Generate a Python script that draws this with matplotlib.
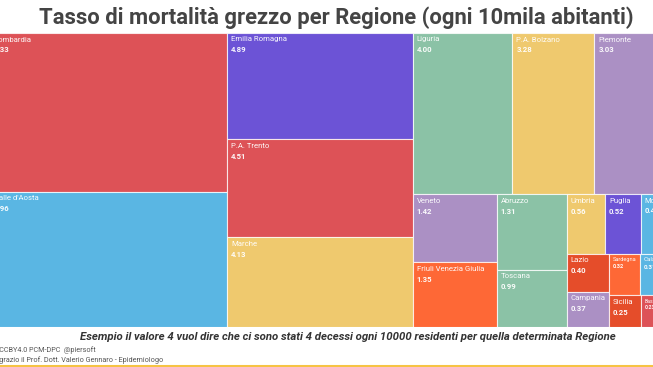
import matplotlib
matplotlib.use("Agg")
import matplotlib.pyplot as plt
from matplotlib.patches import Rectangle
from matplotlib.lines import Line2D

# ---------------- data ----------------
regions = ["Lombardia", "Valle d'Aosta", "Emilia Romagna", "P.A. Trento", "Marche",
           "Liguria", "P.A. Bolzano", "Piemonte", "Veneto", "Friuli Venezia Giulia",
           "Abruzzo", "Toscana", "Umbria", "Puglia", "Molise", "Lazio", "Campania",
           "Sardegna", "Calabria", "Sicilia", "Basilicata"]
values = [9.33, 7.96, 4.89, 4.51, 4.13,
          4.00, 3.28, 3.03, 1.42, 1.35,
          1.31, 0.99, 0.56, 0.52, 0.43, 0.40, 0.37,
          0.32, 0.31, 0.25, 0.23]
colors = ["#dd5257", "#5ab6e3", "#6c53d6", "#dd5257", "#efc96e",
          "#8bc2a6", "#efc96e", "#ab90c4", "#ab90c4", "#fe6836",
          "#8bc2a6", "#8bc2a6", "#efc96e", "#6c53d6", "#5ab6e3", "#e54d2a", "#ab90c4",
          "#fe6836", "#5ab6e3", "#e54d2a", "#dd5257"]

title = "Tasso di mortalità grezzo per Regione (ogni 10mila abitanti)"
note = "Esempio il valore 4 vuol dire che ci sono stati 4 decessi ogni 10000 residenti per quella determinata Regione"
credit1 = "Dati: CCBY4.0 PCM-DPC  @piersoft"
credit2 = "Ringrazio il Prof. Dott. Valerio Gennaro - Epidemiologo"

# ---------------- squarified treemap (d3 style) ----------------
PHI = (1 + 5 ** 0.5) / 2


def squarify(vals, x0, y0, x1, y1, ratio=PHI):
    n = len(vals)
    out = [None] * n
    value = sum(vals)
    i0 = i1 = 0
    while i0 < n:
        dx, dy = x1 - x0, y1 - y0
        sumv = vals[i1]
        i1 += 1
        minv = maxv = sumv
        alpha = max(dy / dx, dx / dy) / (value * ratio)
        beta = sumv * sumv * alpha
        min_ratio = max(maxv / beta, beta / minv)
        while i1 < n:
            nv = vals[i1]
            sumv += nv
            minv = min(minv, nv)
            maxv = max(maxv, nv)
            beta = sumv * sumv * alpha
            nr = max(maxv / beta, beta / minv)
            if nr > min_ratio:
                sumv -= nv
                break
            min_ratio = nr
            i1 += 1
        row = list(range(i0, i1))
        if dx < dy:  # dice: horizontal row on top
            ny = y0 + dy * sumv / value
            xx = x0
            for k in row:
                w = (x1 - x0) * vals[k] / sumv
                out[k] = (xx, y0, w, ny - y0)
                xx += w
            y0 = ny
        else:  # slice: vertical column on left
            nx = x0 + dx * sumv / value
            yy = y0
            for k in row:
                h = (y1 - y0) * vals[k] / sumv
                out[k] = (x0, yy, nx - x0, h)
                yy += h
            x0 = nx
        value -= sumv
        i0 = i1
    return out


order = sorted(range(len(values)), key=lambda i: -values[i])
svals = [values[i] for i in order]

# ---------------- figure ----------------
W, H = 653, 367
fig = plt.figure(figsize=(W / 100, H / 100), dpi=100)
fig.patch.set_facecolor("white")

# treemap area (in pixels), it extends a bit past the image on both sides
TX0, TX1, TY0, TY1 = -10, 670, 33, 327
TW, TH = TX1 - TX0, TY1 - TY0
ax = fig.add_axes([TX0 / W, 1 - TY1 / H, TW / W, TH / H])
ax.set_xlim(0, TW)
ax.set_ylim(TH, 0)
ax.axis("off")

rects = squarify(svals, 0, 0, TW, TH)
renderer = fig.canvas.get_renderer()
FAM = ["Roboto", "DejaVu Sans"]
base_fs = 5.6

for j, i in enumerate(order):
    x, y, w, h = rects[j]
    ax.add_patch(Rectangle((x, y), w, h, facecolor=colors[i],
                           edgecolor=(1, 1, 1, 0.75), linewidth=0.8))
    fs = base_fs
    t = ax.text(x + 4, y + 3.5, regions[i], ha="left", va="top", fontsize=fs,
                family=FAM, color="white", alpha=0.95, clip_on=False)
    tw = t.get_window_extent(renderer).width
    avail = w - 7
    if tw > avail:
        fs = max(3.6, fs * avail / tw)
        t.set_fontsize(fs)
    ax.text(x + 4, y + 3.5 + fs * 1.75, f"{values[i]:.2f}", ha="left", va="top",
            fontsize=fs, family=FAM, fontweight="bold", color="white", alpha=0.95,
            clip_on=False)

# ---------------- texts ----------------
fig.text(336 / W, 1 - 17.5 / H, title, ha="center", va="center", fontsize=15.8,
         fontweight="bold", family=FAM, color="#444444")
fig.text(348 / W, 1 - 337.5 / H, note, ha="center", va="center", fontsize=8.2,
         fontweight="bold", style="italic", family=FAM, color="#333333")
fig.text(-17 / W, 1 - 350 / H, credit1, ha="left", va="center", fontsize=5.2,
         family=FAM, color="#555555")
fig.text(-11 / W, 1 - 360 / H, credit2, ha="left", va="center", fontsize=5.2,
         family=FAM, color="#555555")

fig.add_artist(Line2D([0, 1], [1 - 366 / H, 1 - 366 / H], transform=fig.transFigure,
                      color="#f6c344", linewidth=2.2))

fig.savefig("out.png", dpi=100)
